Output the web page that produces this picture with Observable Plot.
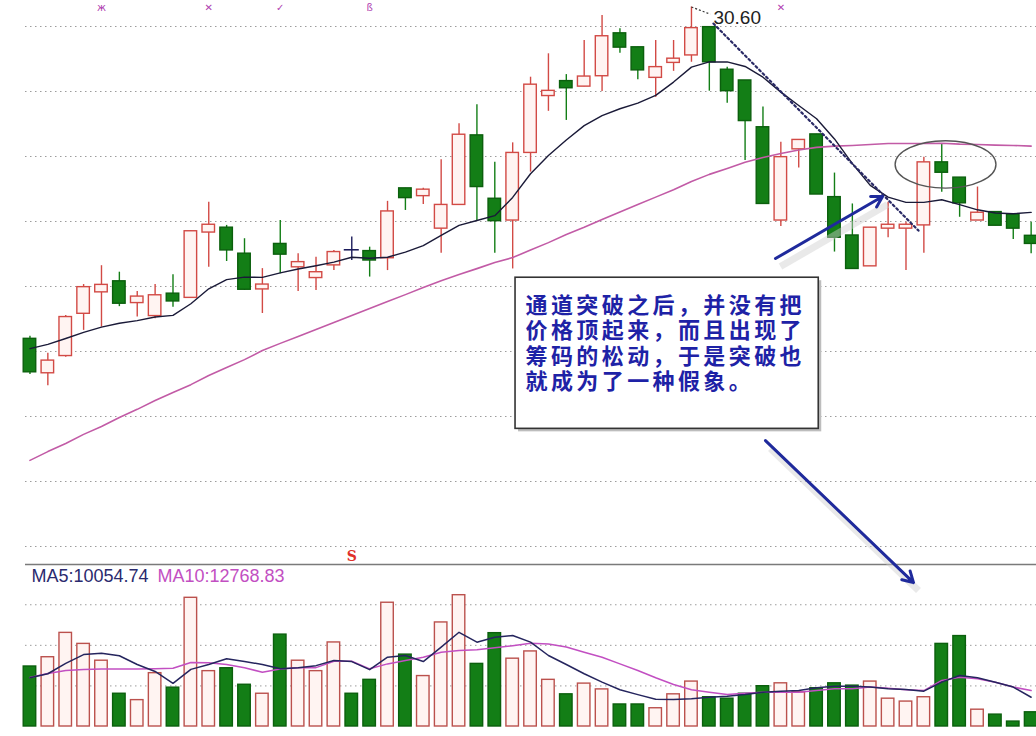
<!DOCTYPE html>
<html><head><meta charset="utf-8">
<script src="https://cdn.jsdelivr.net/npm/d3@7"></script>
<script src="https://cdn.jsdelivr.net/npm/@observablehq/plot@0.6"></script>
<style>
html,body{margin:0;padding:0;background:#fff;}
#wrap{position:relative;width:1036px;height:736px;overflow:hidden;background:#fff;}
#price{position:relative;z-index:2;height:563px;}
#vol{position:relative;z-index:1;height:173px;}
svg{display:block;}
</style></head><body><div id="wrap"><div id="price"></div><div id="vol"></div></div>
<script>
// ---------- data ----------
const open  = [20.39,19.33,19.86,21.16,21.82,22.16,21.49,21.09,21.78,21.65,23.66,23.81,23.01,21.91,23.31,22.59,22.26,22.65,23.13,23.09,22.87,25.02,24.78,23.78,24.51,26.65,24.70,24.03,26.11,27.86,28.32,28.15,28.47,29.79,29.36,28.42,28.88,29.11,29.98,28.67,28.34,26.90,24.03,26.22,26.68,24.75,23.57,22.62,23.78,23.78,23.88,25.82,25.35,24.03,24.29,24.22,23.56];
const close = [19.36,19.72,21.06,21.98,22.05,21.47,21.69,21.73,21.54,23.70,23.90,23.11,21.90,22.06,22.98,22.75,22.44,23.06,23.13,22.80,24.31,24.72,24.98,24.51,26.67,25.06,24.01,26.11,28.21,28.02,28.10,28.46,29.70,29.35,28.65,28.75,29.01,29.95,28.90,28.01,27.09,24.54,25.98,26.51,24.83,23.50,22.54,23.81,23.90,23.90,25.82,25.50,24.56,24.27,23.87,23.78,23.31];
const high  = [20.47,19.95,21.11,22.06,22.64,22.44,21.85,22.06,22.36,23.72,24.59,23.88,23.47,22.55,24.03,23.01,22.90,23.11,23.52,23.21,24.62,25.02,25.02,25.90,27.01,27.59,25.82,26.42,28.44,29.16,28.52,29.57,30.34,29.93,29.36,29.57,29.57,30.60,29.98,28.75,28.34,27.52,26.44,26.51,26.68,25.49,24.54,23.81,24.59,23.98,25.98,26.39,25.35,25.06,24.29,24.22,23.98];
const low   = [19.29,18.95,19.82,20.65,20.75,21.38,21.06,21.01,21.36,21.63,22.59,22.77,21.88,21.17,22.39,21.85,21.88,22.49,22.80,22.29,22.49,24.34,24.52,23.02,24.49,24.03,23.02,22.54,25.52,27.39,27.11,28.15,28.00,29.18,28.36,27.82,28.62,28.90,28.01,27.64,25.88,24.54,23.85,25.65,24.83,23.06,22.54,22.62,23.50,22.49,23.02,24.90,24.13,24.03,23.87,23.45,23.01];
const maShort = [20.09,20.22,20.40,20.59,20.75,20.87,20.95,21.06,21.11,21.47,21.93,22.21,22.29,22.28,22.42,22.54,22.64,22.75,22.90,22.87,22.90,23.06,23.26,23.57,23.88,24.03,24.18,24.74,25.47,26.03,26.51,26.95,27.26,27.47,27.64,27.88,28.29,28.75,28.91,28.91,28.77,28.44,27.98,27.57,27.16,26.54,25.78,25.11,24.75,24.59,24.59,24.67,24.52,24.36,24.26,24.24,24.28];
const maLong  = [16.65,16.92,17.17,17.45,17.69,17.97,18.22,18.49,18.74,18.98,19.26,19.51,19.75,20.03,20.25,20.46,20.68,20.89,21.11,21.32,21.54,21.75,21.97,22.18,22.37,22.55,22.74,22.89,23.12,23.35,23.60,23.82,24.06,24.29,24.52,24.75,24.98,25.23,25.45,25.63,25.82,25.97,26.09,26.20,26.28,26.32,26.34,26.37,26.40,26.40,26.40,26.41,26.38,26.37,26.35,26.34,26.32];
const volume = [20700,23900,32300,28500,22700,11300,9100,18400,13400,44400,19100,20100,14400,11300,31700,22700,19100,29000,11300,16100,42700,24800,17400,35900,45300,21600,32200,23400,25900,16100,11100,14800,12800,7600,7600,6300,11100,15500,10100,9600,11300,13900,14900,11800,13200,14900,14100,15500,9600,8600,10100,28500,31200,5800,4100,1700,4900];
const volMA5  = [16800,18200,21800,24800,25300,24400,21400,19000,14900,19700,21400,23400,22400,21400,19900,20300,21000,22800,22400,19600,23900,24500,22400,27400,32500,29100,30800,31400,29100,24500,21400,18200,15300,12700,11000,9400,9300,9600,10100,10400,11000,11800,12200,12400,13400,13900,13900,13600,13000,12800,12200,15300,17600,16800,15300,13600,10100];
const volMA10 = [16900,18300,19300,19700,19800,19800,19800,19900,20100,22100,22000,21400,20300,18700,19800,20300,20300,22500,22500,19900,21600,22800,23900,25600,26200,26500,27200,27900,28700,28500,27400,25600,23900,21600,19300,16800,14500,12700,11800,11000,11500,11800,11800,11800,12400,13000,13000,13600,13200,12700,12400,15900,17000,16500,15300,13600,12400];
const priceGrid = [30,28,26,24,22,20,18,16,14];
const volGrid = [14000,28000,42000];
const legendMA5 = "MA5:10054.74";
const legendMA10 = "MA10:12768.83";
const peakLabel = "30.60";
const noteLines = ["通道突破之后，并没有把","价格顶起来，而且出现了","筹码的松动，于是突破也","就成为了一种假象。"];
const markers = [{i:4,t:"ж"},{i:10,t:"✕"},{i:14,t:"✓"},{i:19,t:"ß"},{i:42,t:"✕"}];
const signal = [{i:18,t:"S"}];
const peak = [{i:37,p:30.60}];
const peakLeader = [{i1:37,p1:30.60,i2:38.05,p2:30.38}];
const trendLine = [{i:38.23,p:30.09},{i:49.70,p:23.72}];
const arrows = [{i1:41.70,p1:22.86,i2:47.69,p2:24.77},{i1:41.14,p1:17.26,i2:49.42,p2:12.89}];
const ring = {i:51.24,p:25.74,ri:2.82,rp:0.73};
const noteBox = [{i1:27.16,i2:44.12,p1:22.27,p2:17.62}];
const noteAnchor = {i:27.72, p:[21.40,20.62,19.84,19.06]};

// ---------- styles ----------
const RED="#d24a45", RED_FILL="#fff4f2", GREEN="#137e16", GREEN_EDGE="#0b5f0d", NAVY="#1c1c5c";
const PINK="#c25ba6", VRED="#bb514d", MA5C="#25255e", MA10C="#c24fc2", BLUE="#1f2a9c";

const W=1036, PH=563, VH=173, ML=25;
const xDomain=[-0.25,56.3];
const PXPU=32.5, PTOP=30.8;
const priceDomain=[PTOP-PH/PXPU, PTOP];
const VPX=345; // shares per pixel
const volDomain=[0,(VH-11)*VPX];

const candles = open.map((o,i)=>({i,open:o,close:close[i],high:high[i],low:low[i]}));
const dir = d => d.close>d.open ? 1 : d.close<d.open ? -1 : 0;
const bodies = candles.filter(d=>dir(d)!==0);
const flats = candles.filter(d=>dir(d)===0);
const wickColor = d => dir(d)>0 ? RED : dir(d)<0 ? GREEN : NAVY;
const lineData = arr => arr.map((v,i)=>({i,v}));
const note = noteLines.map((t,k)=>({i:noteAnchor.i,p:noteAnchor.p[k],t}));

function ellipseMark(index, scales){
  let sx=scales && scales.x, sy=scales && scales.y;
  if(typeof sx!=="function") sx=d3.scaleLinear(xDomain,[ML,W]);
  if(typeof sy!=="function") sy=d3.scaleLinear(priceDomain,[PH,0]);
  const cx=sx(ring.i), cy=sy(ring.p);
  const rx=Math.abs(sx(ring.i+ring.ri)-cx), ry=Math.abs(sy(ring.p+ring.rp)-cy);
  const e=document.createElementNS("http://www.w3.org/2000/svg","ellipse");
  e.setAttribute("cx",cx);e.setAttribute("cy",cy);e.setAttribute("rx",rx);e.setAttribute("ry",ry);
  e.setAttribute("fill","none");e.setAttribute("stroke","#555");e.setAttribute("stroke-width","1.4");
  return e;
}

const price = Plot.plot({
  width:W, height:PH, marginTop:0, marginBottom:0, marginLeft:ML, marginRight:0,
  x:{domain:xDomain, axis:null}, y:{domain:priceDomain, axis:null},
  style:{background:"transparent", overflow:"visible"},
  marks:[
    Plot.ruleY(priceGrid,{stroke:"#9c9c9c",strokeDasharray:"1.5,3.5",strokeWidth:1}),
    Plot.ruleX(candles,{x:"i",y1:"low",y2:"high",stroke:wickColor,strokeWidth:1.4}),
    Plot.rect(bodies,{x1:d=>d.i-0.35,x2:d=>d.i+0.35,y1:"open",y2:"close",
      fill:d=>dir(d)>0?RED_FILL:GREEN, stroke:d=>dir(d)>0?RED:GREEN_EDGE, strokeWidth:1.4}),
    Plot.ruleY(flats,{y:"open",x1:d=>d.i-0.42,x2:d=>d.i+0.42,stroke:NAVY,strokeWidth:1.6}),
    Plot.line(lineData(maLong),{x:"i",y:"v",stroke:PINK,strokeWidth:1.6}),
    Plot.line(lineData(maShort),{x:"i",y:"v",stroke:"#1a1a38",strokeWidth:1.4}),
    Plot.line(trendLine,{x:"i",y:"p",stroke:"#2a2a66",strokeWidth:2.2,strokeDasharray:"2,3"}),
    ellipseMark,
    Plot.link(arrows,{x1:"i1",y1:"p1",x2:"i2",y2:"p2",stroke:"#cfcfcf",strokeOpacity:0.45,strokeWidth:7,dx:5,dy:8}),
    Plot.arrow(arrows,{x1:"i1",y1:"p1",x2:"i2",y2:"p2",stroke:BLUE,strokeWidth:3,headLength:6}),
    Plot.rect(noteBox,{x1:"i1",x2:"i2",y1:"p1",y2:"p2",fill:"#bdbdbd",dx:3,dy:3}),
    Plot.rect(noteBox,{x1:"i1",x2:"i2",y1:"p1",y2:"p2",fill:"#fff",stroke:"#333",strokeWidth:1.6}),
    Plot.text(note,{x:"i",y:"p",text:"t",textAnchor:"start",lineAnchor:"middle",
      fontSize:22,fontWeight:"bold",fill:"#1e22a6",fontFamily:"Noto Sans CJK SC"}),
    Plot.link(peakLeader,{x1:"i1",y1:"p1",x2:"i2",y2:"p2",stroke:"#333",strokeDasharray:"2,2",strokeWidth:1.2}),
    Plot.text(peak,{x:"i",y:"p",text:()=>peakLabel,dx:22,dy:10.5,textAnchor:"start",lineAnchor:"middle",
      fontSize:19,fill:"#222",fontFamily:"Liberation Sans"}),
    Plot.text(markers,{x:"i",frameAnchor:"top",dy:7,lineAnchor:"middle",text:"t",fontSize:10,fill:"#b040b0",fontFamily:"DejaVu Sans"}),
    Plot.text(signal,{x:"i",frameAnchor:"bottom",dy:-7,lineAnchor:"middle",text:"t",fontSize:14,fontWeight:"bold",fill:"#e0302a",fontFamily:"DejaVu Serif"})
  ]
});
price.querySelectorAll('g[font-family="Noto Sans CJK SC"]').forEach(g=>g.style.letterSpacing="3.4px");
document.getElementById("price").appendChild(price);

const vols = volume.map((v,i)=>({i,v,up:dir(candles[i])>0}));
const vol = Plot.plot({
  width:W, height:VH, marginTop:1, marginBottom:10, marginLeft:ML, marginRight:0,
  x:{domain:xDomain, axis:null}, y:{domain:volDomain, axis:null},
  style:{background:"transparent"},
  marks:[
    Plot.ruleY(volGrid,{stroke:"#9c9c9c",strokeDasharray:"1.5,3.5",strokeWidth:1}),
    Plot.ruleY([volDomain[1]],{stroke:"#7a7a7a",strokeWidth:1.5}),
    Plot.rect(vols,{x1:d=>d.i-0.35,x2:d=>d.i+0.35,y1:()=>0,y2:"v",
      fill:d=>d.up?RED_FILL:GREEN, stroke:d=>d.up?VRED:GREEN_EDGE, strokeWidth:1.4}),
    Plot.line(lineData(volMA10),{x:"i",y:"v",stroke:MA10C,strokeWidth:1.5}),
    Plot.line(lineData(volMA5),{x:"i",y:"v",stroke:MA5C,strokeWidth:1.5}),
    Plot.text([legendMA5],{frameAnchor:"top-left",dx:6,dy:12,lineAnchor:"middle",text:d=>d,fontSize:18,fill:"#2a2a6e",fontFamily:"Liberation Sans"}),
    Plot.text([legendMA10],{frameAnchor:"top-left",dx:132,dy:12,lineAnchor:"middle",text:d=>d,fontSize:18,fill:MA10C,fontFamily:"Liberation Sans"})
  ]
});
document.getElementById("vol").appendChild(vol);
</script></body></html>
